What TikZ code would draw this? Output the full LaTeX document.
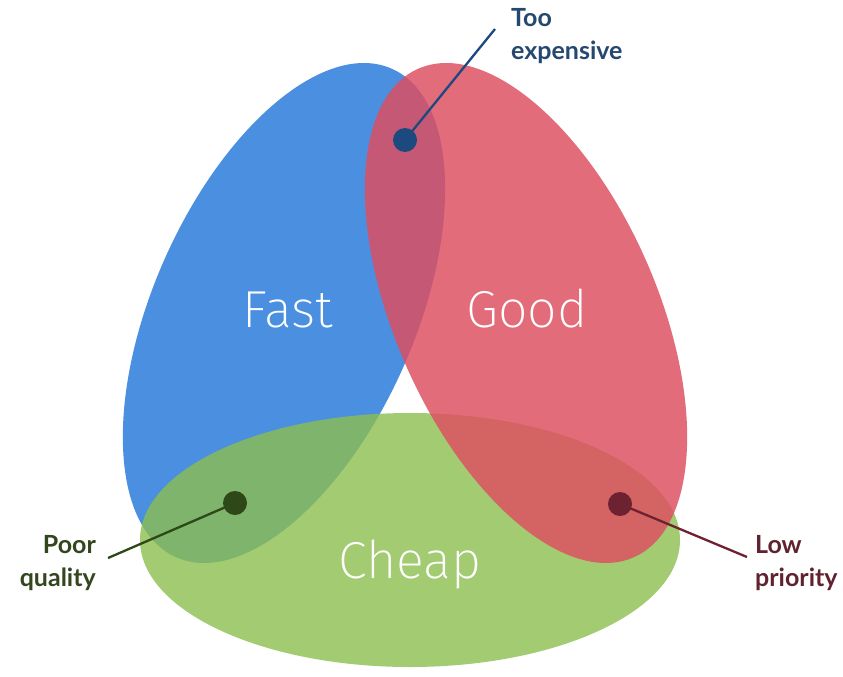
\documentclass[tikz,border=0pt]{standalone}
\usepackage{fontspec}
\newfontfamily\thinfont{Fira Sans}[UprightFont={* ExtraLight}]
\newfontfamily\labelfont{Lato}
\definecolor{cblue}{RGB}{74,143,224}
\definecolor{cgreen}{RGB}{140,190,79}
\definecolor{cred}{RGB}{222,79,96}
\definecolor{tblue}{RGB}{36,72,112}
\definecolor{tgreen}{RGB}{52,70,30}
\definecolor{tred}{RGB}{96,34,46}
\definecolor{dblue}{RGB}{28,74,126}
\definecolor{dgreen}{RGB}{46,72,24}
\definecolor{dred}{RGB}{108,34,48}
\tikzset{
  bigword/.style={font=\thinfont\fontsize{52}{60}\selectfont, text=white, inner sep=0pt, anchor=base},
  lbl/.style={font=\labelfont\bfseries\fontsize{25}{33}\selectfont, inner sep=0pt},
  dot/.style={circle, inner sep=0pt, minimum size=24pt},
  lead/.style={line width=2.3pt},
}
\begin{document}
\begin{tikzpicture}[x=1pt,y=-1pt]
\useasboundingbox (0,0) rectangle (843,677);
\fill[white] (0,0) rectangle (843,677);
% sets
\fill[cblue, shift={(284,313)}, rotate=66.2] (0,0) ellipse [x radius=267pt, y radius=131pt];
\fill[cgreen, fill opacity=0.8] (410,540) ellipse [x radius=270pt, y radius=127pt];
\fill[cred, fill opacity=0.83, shift={(526,313)}, rotate=-66.2] (0,0) ellipse [x radius=267pt, y radius=131pt];
% set names
\node[bigword] (fast) at (288,327) {Fast};
\node[bigword] (good) at (527,327) {Good};
\node[bigword] (cheap) at (410,578) {Cheap};
% labels
\node[lbl, text=tblue, align=left, anchor=west] (tooexp) at (511,36) {Too\\expensive};
\node[lbl, text=tgreen, align=right, anchor=east] (poor) at (96,563) {Poor\\quality};
\node[lbl, text=tred, align=left, anchor=west] (lowp) at (755,563) {Low\\priority};
% leader ends
\coordinate (e1) at (495,29);
\coordinate (e2) at (108,558);
\coordinate (e3) at (747,557);
% dots
\node[dot, fill=dblue] (d1) at (405,140) {};
\node[dot, fill=dgreen] (d2) at (235,503) {};
\node[dot, fill=dred] (d3) at (620,504) {};
\draw[lead, dblue] (d1.center) -- (e1);
\draw[lead, dgreen] (d2.center) -- (e2);
\draw[lead, dred] (d3.center) -- (e3);
\end{tikzpicture}
\end{document}
